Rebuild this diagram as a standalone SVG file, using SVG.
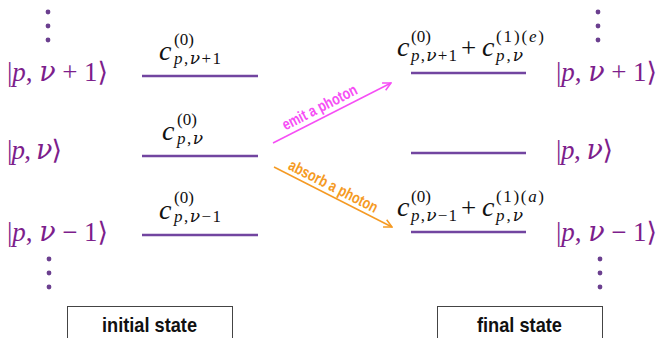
<svg xmlns="http://www.w3.org/2000/svg" width="660" height="338" viewBox="0 0 660 338">
<defs>
<style>
.lvl{stroke:#7245a0;stroke-width:2.5;fill:none}
.dot{fill:#6b3f8f}
.ket{font-family:"Liberation Serif","DejaVu Serif",serif;font-size:27px;fill:#7d1e8c}
.m{font-family:"Liberation Serif","DejaVu Serif",serif;fill:#111}
.c{font-size:28px;font-style:italic}
.s{font-size:17px}
.i{font-style:italic}
.nu{font-family:"DejaVu Serif",serif;font-style:italic}
.box{fill:none;stroke:#444;stroke-width:1}
.lab{font-family:"Liberation Sans Narrow","Liberation Sans",sans-serif;font-weight:bold;font-size:21px;fill:#111;text-anchor:middle}
.al{font-family:"Liberation Sans Narrow","Liberation Sans",sans-serif;font-weight:bold;font-size:16px;text-anchor:middle}
</style>
<marker id="ahE" viewBox="0 0 10 10" refX="9" refY="5" markerWidth="10" markerHeight="10" markerUnits="userSpaceOnUse" orient="auto"><path d="M1,1 L9,5 L1,9" fill="none" stroke="#f64ef5" stroke-width="1.5"/></marker>
<marker id="ahA" viewBox="0 0 10 10" refX="9" refY="5" markerWidth="10" markerHeight="10" markerUnits="userSpaceOnUse" orient="auto"><path d="M1,1 L9,5 L1,9" fill="none" stroke="#f59a23" stroke-width="1.5"/></marker>
</defs>

<g id="dots">
<circle class="dot" cx="48" cy="12" r="2.4"/><circle class="dot" cx="48" cy="26" r="2.4"/><circle class="dot" cx="48" cy="40" r="2.4"/>
<circle class="dot" cx="49" cy="259" r="2.4"/><circle class="dot" cx="49" cy="273" r="2.4"/><circle class="dot" cx="49" cy="287" r="2.4"/>
<circle class="dot" cx="598" cy="12" r="2.4"/><circle class="dot" cx="598" cy="26" r="2.4"/><circle class="dot" cx="598" cy="40" r="2.4"/>
<circle class="dot" cx="600" cy="259" r="2.4"/><circle class="dot" cx="600" cy="273" r="2.4"/><circle class="dot" cx="600" cy="287" r="2.4"/>
</g>

<g id="kets-left">
<text class="ket" x="7" y="81" textLength="101" lengthAdjust="spacing">|<tspan class="i">p</tspan>, <tspan class="nu">ν</tspan> + 1⟩</text>
<text class="ket" x="7" y="159" textLength="55" lengthAdjust="spacing">|<tspan class="i">p</tspan>, <tspan class="nu">ν</tspan>⟩</text>
<text class="ket" x="7" y="241" textLength="101" lengthAdjust="spacing">|<tspan class="i">p</tspan>, <tspan class="nu">ν</tspan> − 1⟩</text>
</g>
<g id="kets-right">
<text class="ket" x="556" y="81" textLength="101" lengthAdjust="spacing">|<tspan class="i">p</tspan>, <tspan class="nu">ν</tspan> + 1⟩</text>
<text class="ket" x="556" y="159" textLength="57" lengthAdjust="spacing">|<tspan class="i">p</tspan>, <tspan class="nu">ν</tspan>⟩</text>
<text class="ket" x="556" y="241" textLength="101" lengthAdjust="spacing">|<tspan class="i">p</tspan>, <tspan class="nu">ν</tspan> − 1⟩</text>
</g>

<g id="initial-top">
<line class="lvl" x1="142" y1="76" x2="258" y2="76"/>
<text class="m c" x="159" y="60">c</text>
<text class="m s" x="174" y="45">(0)</text>
<text class="m s" x="174" y="64" textLength="47" lengthAdjust="spacing"><tspan class="i">p</tspan>,<tspan class="nu">ν</tspan>+1</text>
</g>
<g id="initial-mid">
<line class="lvl" x1="142" y1="156" x2="258" y2="156"/>
<text class="m c" x="162" y="140">c</text>
<text class="m s" x="177" y="125">(0)</text>
<text class="m s" x="177" y="144" textLength="26" lengthAdjust="spacing"><tspan class="i">p</tspan>,<tspan class="nu">ν</tspan></text>
</g>
<g id="initial-bot">
<line class="lvl" x1="142" y1="235" x2="258" y2="235"/>
<text class="m c" x="159" y="219">c</text>
<text class="m s" x="174" y="203">(0)</text>
<text class="m s" x="174" y="222" textLength="47" lengthAdjust="spacing"><tspan class="i">p</tspan>,<tspan class="nu">ν</tspan>−1</text>
</g>

<g id="final-top">
<line class="lvl" x1="411" y1="73" x2="526" y2="73"/>
<text class="m c" x="397" y="56">c</text>
<text class="m s" x="411" y="42">(0)</text>
<text class="m s" x="411" y="61" textLength="46" lengthAdjust="spacing"><tspan class="i">p</tspan>,<tspan class="nu">ν</tspan>+1</text>
<text class="m" x="461" y="57" font-size="27">+</text>
<text class="m c" x="482" y="56">c</text>
<text class="m s" x="496" y="42" textLength="48" lengthAdjust="spacing">(1)(<tspan class="i">e</tspan>)</text>
<text class="m s" x="496" y="61" textLength="27" lengthAdjust="spacing"><tspan class="i">p</tspan>,<tspan class="nu">ν</tspan></text>
</g>
<g id="final-mid">
<line class="lvl" x1="411" y1="153" x2="526" y2="153"/>
</g>
<g id="final-bot">
<line class="lvl" x1="411" y1="232" x2="526" y2="232"/>
<text class="m c" x="397" y="216">c</text>
<text class="m s" x="411" y="202">(0)</text>
<text class="m s" x="411" y="221" textLength="46" lengthAdjust="spacing"><tspan class="i">p</tspan>,<tspan class="nu">ν</tspan>−1</text>
<text class="m" x="461" y="217" font-size="27">+</text>
<text class="m c" x="482" y="216">c</text>
<text class="m s" x="496" y="202" textLength="48" lengthAdjust="spacing">(1)(<tspan class="i">a</tspan>)</text>
<text class="m s" x="496" y="221" textLength="27" lengthAdjust="spacing"><tspan class="i">p</tspan>,<tspan class="nu">ν</tspan></text>
</g>

<g id="connectors">
<line x1="273" y1="143" x2="391" y2="83" stroke="#f64ef5" stroke-width="1.5" marker-end="url(#ahE)"/>
<text class="al" fill="#f64ef5" x="322" y="112" textLength="82" lengthAdjust="spacingAndGlyphs" transform="rotate(-27 322 112)">emit a photon</text>
<line x1="274" y1="167" x2="392" y2="227" stroke="#f59a23" stroke-width="1.5" marker-end="url(#ahA)"/>
<text class="al" fill="#f59a23" x="331" y="191" textLength="98" lengthAdjust="spacingAndGlyphs" transform="rotate(27 331 191)">absorb a photon</text>
</g>

<g id="initial-state">
<rect class="box" x="67.5" y="306.5" width="165" height="40"/>
<text class="lab" x="149.5" y="332" textLength="95" lengthAdjust="spacingAndGlyphs">initial state</text>
</g>
<g id="final-state">
<rect class="box" x="437.5" y="306.5" width="165" height="40"/>
<text class="lab" x="519.5" y="332" textLength="85" lengthAdjust="spacingAndGlyphs">final state</text>
</g>
</svg>
